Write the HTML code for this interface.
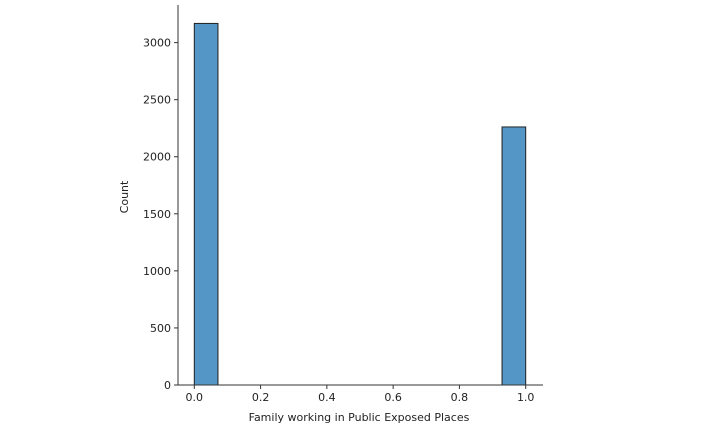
<!DOCTYPE html>
<html><head><meta charset="utf-8"><style>body{margin:0;background:#fff}svg{display:block;font-family:"DejaVu Sans","Liberation Sans",sans-serif}</style></head>
<body>
<svg id="chart" width="716" height="437" viewBox="0 0 716 437" xmlns="http://www.w3.org/2000/svg">
<g id="bars"></g>
<g id="axes"></g>
<text x="0" y="0" transform="translate(128,197) rotate(-90)" text-anchor="middle" font-size="11" fill="#222">Count</text>
<text x="359" y="421" text-anchor="middle" font-size="11" fill="#222">Family working in Public Exposed Places</text>
</svg>
<script>
const binStarts = [0, 0.9286];
const counts = [3168, 2261];
const binWidth = 0.0714;
const xTicks = [0, 0.2, 0.4, 0.6, 0.8, 1.0];
const xTickLabels = ["0.0","0.2","0.4","0.6","0.8","1.0"];
const yTicks = [0, 500, 1000, 1500, 2000, 2500, 3000];

const NS="http://www.w3.org/2000/svg";
const X = v => 194.3 + v*331.4;
const Y = v => 385 - v*0.11413;
function mk(tag, attrs, parent){const e=document.createElementNS(NS,tag);for(const k in attrs)e.setAttribute(k,attrs[k]);parent.appendChild(e);return e;}
const bars=document.getElementById('bars'), axes=document.getElementById('axes');
binStarts.forEach((b,i)=>{
  const r=mk('rect',{x:X(b),y:Y(counts[i]),width:X(b+binWidth)-X(b),height:Y(0)-Y(counts[i]),fill:'#5497c6',stroke:'#222','stroke-width':1},bars);
  
  
});
const ys=mk('line',{x1:178,y1:5,x2:178,y2:385,stroke:'#333','stroke-width':1},axes);


const xs=mk('line',{x1:178,y1:385,x2:543,y2:385,stroke:'#333','stroke-width':1},axes);


xTicks.forEach((t,i)=>{
  mk('line',{x1:X(t),y1:385,x2:X(t),y2:389,stroke:'#333'},axes);
  const tx=mk('text',{x:X(t),y:401,'text-anchor':'middle','font-size':11,fill:'#222'},axes);
  tx.textContent=xTickLabels[i];
  
  
});
yTicks.forEach(t=>{
  mk('line',{x1:174,y1:Y(t),x2:178,y2:Y(t),stroke:'#333'},axes);
  const tx=mk('text',{x:171,y:Y(t)+4,'text-anchor':'end','font-size':11,fill:'#222'},axes);
  tx.textContent=String(t);
  
  
});
</script>
</body></html>
